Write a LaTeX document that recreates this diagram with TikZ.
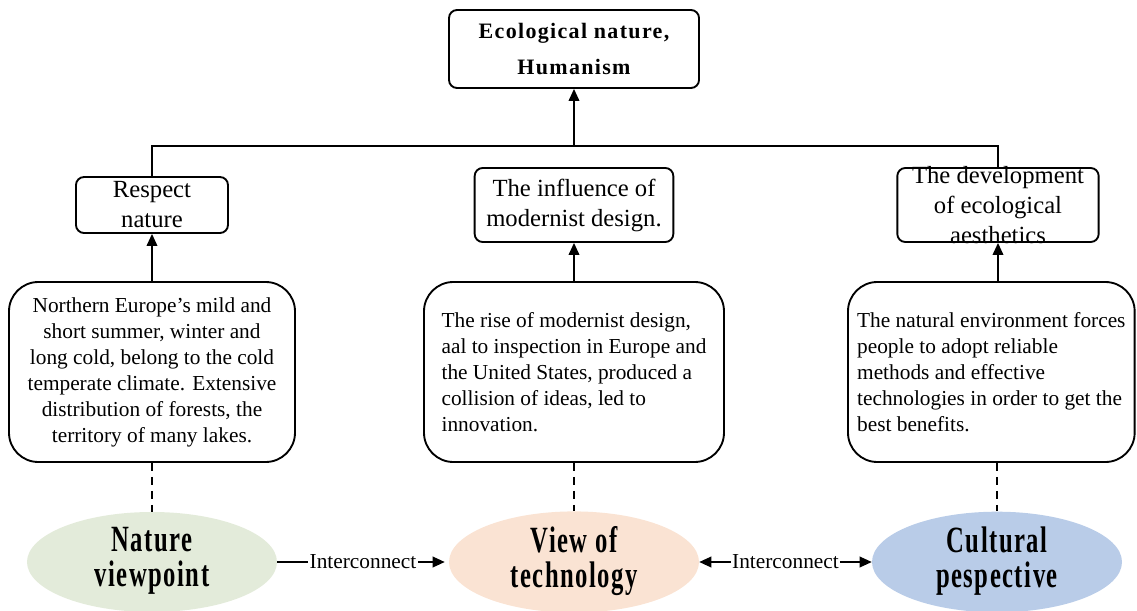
\documentclass[tikz,border=0pt]{standalone}
\usepackage{fontspec}
\setmainfont{Liberation Serif}
\newfontfamily\spacedserif[LetterSpace=6]{Liberation Serif}
\usepackage{graphicx}
\usetikzlibrary{shapes.geometric, arrows.meta, positioning}
\definecolor{naturegreen}{RGB}{227,235,218}
\definecolor{techpeach}{RGB}{250,227,211}
\definecolor{cultureblue}{RGB}{185,204,232}
\newcommand{\tallbold}[1]{\raisebox{-6pt}{\scalebox{1}[1.5]{\begin{tabular}{@{}c@{}}#1\end{tabular}}}}
\tikzset{
    goalbox/.style={rectangle, rounded corners=6pt, draw, line width=1.4pt, minimum width=187.5pt, minimum height=58.5pt, align=center, font=\spacedserif\bfseries\fontsize{16.5}{27}\selectfont},
    aimbox/.style={rectangle, rounded corners=6pt, draw, line width=1.4pt, minimum height=55.5pt, align=center, inner sep=1pt, font=\fontsize{18.5}{22.5}\selectfont},
    infobox/.style={rectangle, rounded corners=22pt, draw, line width=1.4pt, minimum height=135pt, inner xsep=5pt, font=\fontsize{16}{19.5}\selectfont},
    viewnode/.style={ellipse, minimum width=187.5pt, minimum height=75pt, inner sep=0pt, font=\spacedserif\bfseries\fontsize{18.5}{16.5}\selectfont},
    arrow/.style={-{Triangle[length=9pt, width=8pt]}, line width=1.1pt},
    dashlink/.style={dash pattern=on 6pt off 4.5pt, line width=1.1pt},
    linklabel/.style={fill=white, inner sep=1pt, font=\fontsize{16}{18}\selectfont}
}

\begin{document}
\begin{tikzpicture}[node distance=117pt, on grid]
    \useasboundingbox (-430.5pt,36.75pt) rectangle (422.25pt,-420.75pt);
    \node (goal) [goalbox] {Ecological nature,\\Humanism};
    \node (influence) [aimbox, minimum width=149pt, below=of goal] {The influence of\\modernist design.};
    \node (respect) [aimbox, minimum width=114pt, minimum height=42pt, left=316.5pt of influence] {Respect\\nature};
    \node (develop) [aimbox, minimum width=151pt, inner ysep=-4pt, right=318pt of influence] {The development\\of ecological\\aesthetics};
    \coordinate [above=44.25pt of influence] (hub);

    \node (rise) [infobox, minimum width=225pt, align=left, below=125.25pt of influence] {The rise of modernist design,\\aal to inspection in Europe and\\the United States, produced a\\collision of ideas, led to\\innovation.};
    \node (northern) [infobox, minimum width=214.5pt, align=center, below=125.25pt of respect] {Northern Europe's mild and\\short summer, winter and\\long cold, belong to the cold\\temperate climate. Extensive\\distribution of forests, the\\territory of many lakes.};
    \node (natural) [infobox, minimum width=215pt, align=left, right=313pt of rise] {The natural environment forces\\people to adopt reliable\\methods and effective\\technologies in order to get the\\best benefits.};

    \node (nature) [viewnode, fill=naturegreen, below=142.5pt of northern] {\tallbold{Nature\\viewpoint}};
    \node (tech) [viewnode, fill=techpeach, below=142.5pt of rise] {\tallbold{View of\\technology}};
    \node (culture) [viewnode, fill=cultureblue, right=317.25pt of tech] {\tallbold{Cultural\\pespective}};

    \draw[line width=1.1pt] (respect.north) |- (hub) -| (develop.north);
    \draw[arrow] (hub) -- (goal.south);
    \draw[arrow] (northern.north) -- (respect.south);
    \draw[arrow] (rise.north) -- (influence.south);
    \draw[arrow] (develop.south |- natural.north) -- (develop.south);
    \draw[dashlink] (northern.south) -- (nature.north);
    \draw[dashlink] (rise.south) -- (tech.north);
    \draw[dashlink] (culture.north |- natural.south) -- (culture.north);
    \draw[arrow, shorten >=3pt] (nature.east) -- node[linklabel] {Interconnect} (tech.west);
    \draw[{Triangle[length=9pt, width=8pt]}-{Triangle[length=9pt, width=8pt]}, line width=1.1pt] (tech.east) -- node[linklabel] {Interconnect} (culture.west);
\end{tikzpicture}
\end{document}
